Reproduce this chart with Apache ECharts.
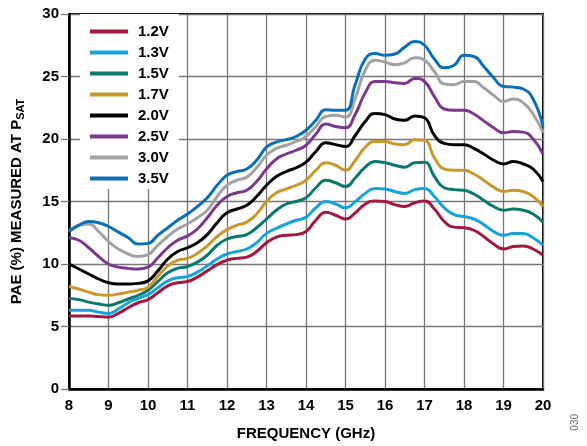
<!DOCTYPE html>
<html>
<head>
<meta charset="utf-8">
<script src="https://cdn.jsdelivr.net/npm/echarts@6/dist/echarts.min.js"></script>
<style>
html,body{margin:0;padding:0;background:#fff;}
#chart{width:587px;height:446px;}
</style>
</head>
<body>
<div id="chart"></div>
<script>
const freq = [8,8.25,8.5,8.75,9,9.25,9.5,9.75,10,10.25,10.5,10.75,11,11.25,11.5,11.75,12,12.25,12.5,12.75,13,13.25,13.5,13.75,14,14.25,14.5,14.75,15,15.25,15.5,15.75,16,16.25,16.5,16.75,17,17.25,17.5,17.75,18,18.25,18.5,18.75,19,19.25,19.5,19.75,20];
const seriesNames = ["1.2V","1.3V","1.5V","1.7V","2.0V","2.5V","3.0V","3.5V"];
const v12 = [5.85,5.85,5.85,5.8,5.75,6.05,6.5,6.9,7.15,7.7,8.25,8.5,8.6,8.95,9.45,9.95,10.3,10.45,10.55,11.0,11.7,12.15,12.3,12.35,12.6,13.5,14.15,13.9,13.6,14.1,14.8,15.05,15.0,14.75,14.6,14.9,15.05,14.4,13.4,12.95,12.9,12.7,12.2,11.6,11.2,11.4,11.45,11.2,10.7];
const v13 = [6.3,6.3,6.3,6.15,6.05,6.4,6.9,7.25,7.55,8.1,8.65,8.9,9.0,9.35,9.85,10.4,10.8,11.0,11.2,11.7,12.45,12.85,13.2,13.5,13.75,14.5,15.0,14.8,14.5,15.0,15.65,16.05,16.0,15.8,15.65,15.95,16.05,15.4,14.5,13.95,13.8,13.6,13.15,12.6,12.3,12.45,12.45,12.1,11.5];
const v15 = [7.25,7.15,6.95,6.8,6.7,6.9,7.2,7.5,7.9,8.6,9.3,9.65,9.8,10.15,10.7,11.5,12.0,12.2,12.35,12.9,13.6,14.3,14.8,15.0,15.3,16.1,16.7,16.5,16.2,16.9,17.75,18.2,18.1,17.9,17.75,18.1,18.15,17.0,16.1,15.95,15.9,15.6,15.1,14.6,14.3,14.4,14.3,14.0,13.35];
const v17 = [8.2,8.0,7.75,7.55,7.5,7.6,7.75,7.9,8.15,9.0,9.85,10.3,10.45,10.85,11.45,12.2,12.75,13.1,13.35,14.0,15.0,15.7,16.0,16.3,16.7,17.5,18.1,17.9,17.5,18.3,19.35,19.8,19.8,19.6,19.55,19.95,19.9,18.5,17.6,17.5,17.5,17.2,16.7,16.15,15.8,15.9,15.8,15.4,14.6];
const v20 = [10.0,9.6,9.2,8.8,8.5,8.4,8.4,8.45,8.65,9.45,10.4,11.0,11.3,11.7,12.35,13.3,14.1,14.4,14.7,15.4,16.3,17.0,17.4,17.7,18.15,19.0,19.7,19.55,19.4,20.3,21.4,22.05,21.95,21.6,21.5,21.85,21.7,20.3,19.65,19.55,19.55,19.25,18.8,18.3,18.0,18.2,18.0,17.6,16.6];
const v25 = [12.1,11.9,11.3,10.6,10.0,9.75,9.65,9.6,9.75,10.5,11.3,11.9,12.25,12.8,13.7,14.7,15.4,15.7,15.9,16.6,17.6,18.4,18.8,19.1,19.5,20.4,21.2,21.0,20.9,22.0,23.7,24.6,24.6,24.5,24.45,24.85,24.6,23.4,22.4,22.3,22.3,22.0,21.45,20.9,20.5,20.6,20.55,20.0,18.8];
const v30 = [12.6,13.1,13.2,12.6,11.8,11.2,10.8,10.6,10.75,11.5,12.2,12.8,13.2,13.7,14.3,15.4,16.3,16.7,16.95,17.7,18.7,19.25,19.5,19.8,20.2,21.0,21.8,21.9,21.75,23.3,25.5,26.3,26.15,25.95,26.1,26.5,26.3,25.4,24.4,24.35,24.6,24.6,24.1,23.5,23.0,23.2,22.9,22.0,20.5];
const v35 = [12.6,13.1,13.4,13.3,13.0,12.55,12.1,11.6,11.65,12.3,12.9,13.5,14.0,14.6,15.3,16.3,17.1,17.4,17.6,18.3,19.35,19.75,19.95,20.2,20.7,21.5,22.35,22.3,22.3,24.4,26.4,26.85,26.7,26.8,27.35,27.8,27.5,26.4,25.7,25.9,26.7,26.6,25.8,24.9,24.2,24.15,24.0,23.2,21.0];
const xTicks = [8,9,10,11,12,13,14,15,16,17,18,19,20];
const yTicks = [0,5,10,15,20,25,30];

const allValues = [v12,v13,v15,v17,v20,v25,v30,v35];
const colors = ["#a3193f","#18a3dc","#0b7a6c","#c89a2e","#000000","#7b3a8c","#a3a3a3","#0b70b7"];
const FONT = "'Liberation Sans', Arial, sans-serif";

const chart = echarts.init(document.getElementById('chart'), null, {renderer:'canvas'});
const series = seriesNames.map((n,i)=>({
  name:n, type:'line', smooth:true, showSymbol:false, symbol:'none',
  data: freq.map((f,j)=>[f, allValues[i][j]]),
  lineStyle:{color:colors[i], width:3},
  itemStyle:{color:colors[i]},
  z:2
}));

chart.setOption({
  animation:false,
  backgroundColor:'#fff',
  grid:{left:69, right:44, top:14, bottom:53, show:true, borderColor:'#000', borderWidth:2, backgroundColor:'transparent'},
  legend:{
    data:seriesNames, orient:'vertical', left:80, top:14,
    padding:[10,10,3,10], backgroundColor:'#fff',
    icon:'rect', itemWidth:38, itemHeight:4, itemGap:6,
    textStyle:{fontFamily:FONT, fontWeight:'bold', fontSize:15, color:'#000', lineHeight:15, padding:[0,0,0,5]},
    z:5
  },
  xAxis:{
    type:'value', min:xTicks[0], max:xTicks[xTicks.length-1], interval:1,
    name:'FREQUENCY (GHz)', nameLocation:'middle', nameGap:37,
    nameTextStyle:{fontFamily:FONT, fontWeight:'bold', fontSize:15, color:'#000'},
    axisLine:{show:true, onZero:false, lineStyle:{color:'#000', width:2.5}},
    axisTick:{show:false},
    axisLabel:{fontFamily:FONT, fontWeight:'bold', fontSize:15, color:'#000', margin:9},
    splitLine:{show:true, lineStyle:{color:'#777', width:1.3}}
  },
  yAxis:{
    type:'value', min:yTicks[0], max:yTicks[yTicks.length-1], interval:5,
    name:'PAE (%) MEASURED AT P{sub|SAT}', nameLocation:'middle', nameGap:43, nameRotate:90,
    nameTextStyle:{fontFamily:FONT, fontWeight:'bold', fontSize:15, color:'#000',
      rich:{sub:{fontFamily:FONT, fontWeight:'bold', fontSize:11, color:'#000', padding:[7,0,0,0]}}},
    axisLine:{show:true, onZero:false, lineStyle:{color:'#000', width:2.5}},
    axisTick:{show:true, length:8, lineStyle:{color:'#777', width:1.3}},
    axisLabel:{fontFamily:FONT, fontWeight:'bold', fontSize:15, color:'#000', margin:10},
    splitLine:{show:true, lineStyle:{color:'#777', width:1.3}}
  },
  graphic:[{
    type:'text', left:570, top:414, rotation:Math.PI/2,
    style:{text:'030', fontFamily:FONT, fontSize:10, fill:'#666'}
  }],
  series:series
});
</script>
</body>
</html>
